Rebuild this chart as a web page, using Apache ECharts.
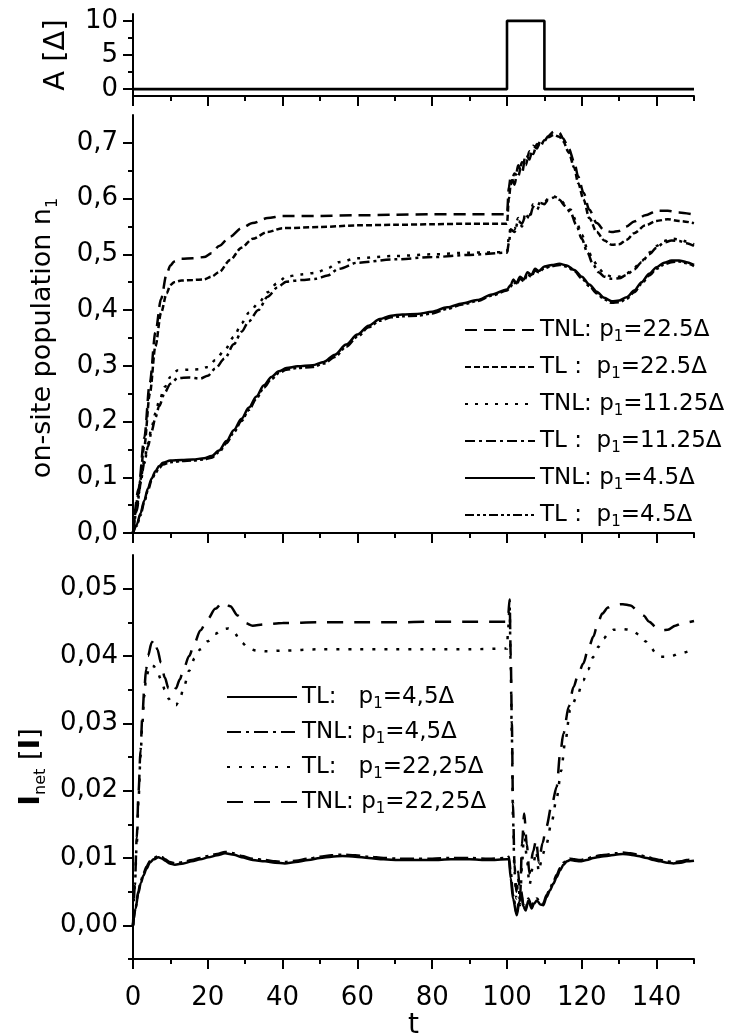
<!DOCTYPE html>
<html><head><meta charset="utf-8">
<script src="https://cdn.jsdelivr.net/npm/echarts@6/dist/echarts.min.js"></script>
<style>html,body{margin:0;padding:0;background:#fff}#c{width:731px;height:1036px}</style>
</head><body><div id="c"></div>
<script>
// ---------- tick labels ----------
const xMajorTicks = [0, 20, 40, 60, 80, 100, 120, 140];
const xMinorTicks = [10, 30, 50, 70, 90, 110, 130, 150];
const aMajorTicks = [0, 5, 10];
const aMinorTicks = [2.5, 7.5];
const nMajorTicks = [0, 0.1, 0.2, 0.3, 0.4, 0.5, 0.6, 0.7];
const nMinorTicks = [0.05, 0.15, 0.25, 0.35, 0.45, 0.55, 0.65];
const iMajorTicks = [0, 0.01, 0.02, 0.03, 0.04, 0.05];
const iMinorTicks = [-0.005, 0.005, 0.015, 0.025, 0.035, 0.045];

// ---------- top panel: pulse amplitude ----------
const tPulse = [0, 100, 100, 110, 110, 150];
const aPulse = [0, 0, 10, 10, 0, 0];

// ---------- middle panel: on-site population ----------
const tMid22 = [0,1.5,3,4.5,6,7.5,9,10,11,13,16,19,21,23,26,29,32,36,40,50,60,70,80,90,100,
  100.5,101,102,103,104,105,106,107,108,109,110,111,112.5,114,115,116.5,118,119,120.5,122,124,126,128,130,132,134,137,140,143,146,150];
const nTNL22 = [0,0.08,0.17,0.27,0.36,0.42,0.465,0.48,0.487,0.492,0.493,0.495,0.502,0.515,0.532,0.547,0.556,0.565,0.569,0.569,0.570,0.571,0.572,0.572,0.572,
  0.62,0.64,0.625,0.66,0.645,0.68,0.67,0.695,0.69,0.705,0.703,0.712,0.72,0.718,0.708,0.69,0.665,0.64,0.61,0.58,0.556,0.543,0.54,0.542,0.55,0.559,0.57,0.578,0.578,0.575,0.571];
const nTL22 = [0,0.07,0.155,0.25,0.335,0.395,0.43,0.445,0.45,0.453,0.454,0.455,0.46,0.468,0.49,0.512,0.528,0.54,0.547,0.549,0.552,0.553,0.554,0.555,0.555,
  0.6,0.625,0.645,0.64,0.665,0.66,0.685,0.68,0.698,0.695,0.705,0.71,0.714,0.711,0.703,0.683,0.655,0.628,0.598,0.565,0.54,0.525,0.517,0.518,0.526,0.538,0.552,0.56,0.563,0.56,0.556];

const tMid11 = [0,1,2,3,4,5,6,7,8.5,10,12,15,18,20,22,24.5,27,29,31,33.5,36,38.5,41,45,49,52,55,60,70,80,90,100,
  100.5,101,102,103,104,105,106,107,108,109,110,111,112.5,114,115.5,117,118.5,120,121.5,123,124.5,126,128,130,132,134,136,138,140,142,144,146,148,150];
const nTNL11 = [0,0.045,0.095,0.13,0.16,0.19,0.215,0.237,0.262,0.28,0.292,0.293,0.294,0.298,0.31,0.328,0.352,0.376,0.395,0.412,0.432,0.448,0.46,0.464,0.467,0.475,0.486,0.493,0.497,0.5,0.503,0.504,
  0.53,0.55,0.545,0.565,0.55,0.575,0.57,0.59,0.585,0.595,0.593,0.6,0.604,0.6,0.59,0.58,0.56,0.535,0.51,0.49,0.475,0.465,0.46,0.46,0.466,0.476,0.488,0.503,0.515,0.524,0.528,0.527,0.523,0.518];
const nTL11 = [0,0.04,0.09,0.125,0.155,0.183,0.207,0.228,0.252,0.268,0.278,0.279,0.277,0.282,0.295,0.313,0.339,0.361,0.38,0.4,0.424,0.44,0.451,0.454,0.456,0.462,0.474,0.485,0.491,0.495,0.499,0.503,
  0.52,0.545,0.54,0.56,0.555,0.57,0.565,0.585,0.58,0.592,0.59,0.598,0.602,0.598,0.587,0.575,0.553,0.528,0.503,0.482,0.468,0.46,0.456,0.457,0.463,0.473,0.486,0.5,0.512,0.521,0.525,0.524,0.52,0.515];

const tMid4 = [0,1,2,3,4,5,6,7,8,10,13,16,19,21,23,25,27,29,31,33,35,37,39,41,44,48,51,54,57,60,63,66,69,72,76,80,84,88,92,96,100,
  101,101.7,102.5,103.5,104.5,105.5,106.5,107.5,108.5,110,112,114,116,118,120,122,124,126,128,130,132,134,136,138,140,142,144,146,148,150];
const nTNL4 = [0,0.015,0.035,0.058,0.08,0.098,0.111,0.12,0.126,0.13,0.131,0.132,0.134,0.138,0.148,0.165,0.185,0.205,0.225,0.245,0.265,0.28,0.29,0.296,0.299,0.301,0.307,0.32,0.338,0.356,0.372,0.384,0.39,0.392,0.393,0.397,0.405,0.412,0.418,0.428,0.437,
  0.445,0.455,0.448,0.46,0.455,0.468,0.463,0.474,0.47,0.478,0.481,0.483,0.48,0.472,0.46,0.446,0.433,0.422,0.416,0.417,0.423,0.435,0.45,0.465,0.477,0.485,0.489,0.489,0.486,0.481];
const nTL4 = [0,0.013,0.032,0.055,0.077,0.095,0.108,0.117,0.123,0.127,0.129,0.13,0.132,0.135,0.145,0.161,0.181,0.201,0.221,0.241,0.261,0.276,0.287,0.293,0.296,0.298,0.304,0.316,0.334,0.352,0.369,0.381,0.387,0.389,0.39,0.394,0.402,0.41,0.416,0.426,0.435,
  0.442,0.451,0.446,0.456,0.452,0.464,0.46,0.471,0.468,0.475,0.479,0.481,0.478,0.47,0.457,0.443,0.43,0.419,0.413,0.414,0.42,0.432,0.447,0.462,0.474,0.482,0.486,0.487,0.484,0.479];

// ---------- bottom panel: net current ----------
const tBot22N = [0,0.5,1,1.5,2,2.5,3,3.5,4,5,5.7,6.5,7.5,8.5,9.5,10.5,11.5,12.5,13.5,15,16.5,18,20,22,24,26,28,30,32,35,40,50,60,70,80,90,100,
  100.3,100.7,101,101.3,101.6,102,102.5,103,103.5,104,104.6,105.3,106,107,107.8,108.5,109.5,110.5,112,113.3,114.2,115.1,116.5,117.8,119,120.4,121.7,123.1,124.3,125.5,127,128.5,131,133,135,136.5,138,140,141.5,143,145,147,150];
const iTNL22 = [0,0.006,0.013,0.02,0.026,0.031,0.035,0.038,0.04,0.042,0.0425,0.041,0.039,0.0368,0.0352,0.0345,0.0352,0.0365,0.038,0.04,0.042,0.0438,0.0455,0.047,0.048,0.0474,0.046,0.0449,0.0445,0.0447,0.0449,0.045,0.045,0.045,0.0451,0.0451,0.0451,
  0.046,0.0484,0.04,0.03,0.018,0.009,0.005,0.008,0.004,0.012,0.0166,0.012,0.0077,0.011,0.0127,0.0093,0.0122,0.0146,0.018,0.0206,0.0255,0.0285,0.0325,0.0354,0.0372,0.0389,0.041,0.0429,0.045,0.0463,0.0472,0.0476,0.0477,0.0475,0.0467,0.046,0.0451,0.0442,0.0438,0.0439,0.0445,0.0449,0.0452];

const tBot22L = [0,0.5,1,1.5,2,2.5,3,3.5,4.5,5.5,6.5,7.5,8.5,9.5,10.5,11.5,12.5,13.5,15,16.5,18,20,22,24,25.5,27,29,31,33,36,40,50,60,70,80,90,100,
  100.3,100.7,101,101.3,101.6,102,102.5,103,103.5,104,104.6,105.3,106,107,107.8,108.5,109.5,110.5,112,113.3,114.5,115.5,116.9,118.7,120.4,121.7,123.1,124.5,125.8,127.2,128.5,131,133,135.6,137,138.3,139.7,141,143.6,146.3,150];
const iTL22 = [0,0.006,0.012,0.019,0.025,0.03,0.034,0.0368,0.0386,0.0385,0.0377,0.0365,0.035,0.0337,0.0328,0.0327,0.0335,0.0352,0.0378,0.0397,0.041,0.0422,0.0433,0.044,0.0441,0.0435,0.042,0.0411,0.0408,0.0407,0.0408,0.041,0.041,0.041,0.041,0.041,0.0411,
  0.044,0.0475,0.038,0.028,0.016,0.008,0.004,0.007,0.003,0.009,0.014,0.01,0.006,0.009,0.011,0.008,0.0105,0.012,0.0155,0.019,0.023,0.027,0.032,0.034,0.0364,0.038,0.0399,0.0414,0.0426,0.0434,0.0439,0.044,0.0439,0.0431,0.0422,0.0414,0.0405,0.0399,0.0399,0.0404,0.041];

const tBot4 = [0,0.7,1.4,2.1,2.8,3.6,4.5,5.5,6.8,7.8,8.6,9.8,11.2,13.5,15.7,18,20.1,22.5,24.6,27,29,32,35.3,38,40.6,43.5,46.9,50,53.1,56,59.4,63,67,71,75,80,85,90,95,100,
  100.5,101,101.6,102.6,103.3,103.8,104.4,105,105.7,106.6,107.2,108,108.9,109.7,110.6,111.5,112.4,113.3,114.2,115.1,116,116.9,118,119.5,121.3,123.1,125,126.7,129,131,133,135,137.4,139.2,141,142.8,144.5,146.5,148,150];
const iTL4 = [0,0.0025,0.0047,0.0063,0.0074,0.0084,0.0093,0.0098,0.0101,0.0099,0.0096,0.0092,0.009,0.0092,0.0095,0.0098,0.0101,0.0104,0.0107,0.0105,0.0101,0.0097,0.0095,0.0093,0.0092,0.0094,0.0097,0.01,0.0102,0.0103,0.0102,0.01,0.0098,0.0097,0.0097,0.0097,0.0098,0.0098,0.0097,0.0098,
  0.0098,0.007,0.004,0.0015,0.0035,0.0047,0.0028,0.0022,0.0037,0.0025,0.0032,0.0037,0.0031,0.003,0.0042,0.0052,0.0062,0.0072,0.0082,0.009,0.0095,0.0097,0.0096,0.0095,0.0097,0.01,0.0102,0.0103,0.0105,0.0106,0.0105,0.0103,0.01,0.0097,0.0095,0.0093,0.0092,0.0093,0.0095,0.0096];
const iTNL4 = [0,0.0027,0.005,0.0066,0.0077,0.0087,0.0095,0.01,0.0103,0.0101,0.0098,0.0094,0.0092,0.0094,0.0097,0.01,0.0103,0.0106,0.0109,0.0107,0.0103,0.0099,0.0097,0.0095,0.0094,0.0096,0.0099,0.0102,0.0104,0.0105,0.0104,0.0102,0.01,0.0099,0.0099,0.0099,0.01,0.01,0.0099,0.01,
  0.0102,0.008,0.0045,0.0018,0.004,0.005,0.003,0.0025,0.004,0.0028,0.0035,0.004,0.0034,0.0033,0.0045,0.0055,0.0065,0.0075,0.0085,0.0093,0.0097,0.0099,0.0098,0.0097,0.0099,0.0102,0.0104,0.0105,0.0107,0.0108,0.0107,0.0105,0.0102,0.0099,0.0097,0.0095,0.0094,0.0095,0.0097,0.0098];

// ---------- legend names ----------
const midNames = ['TNL: p1=22.5Δ', 'TL :  p1=22.5Δ', 'TNL: p1=11.25Δ', 'TL :  p1=11.25Δ', 'TNL: p1=4.5Δ', 'TL :  p1=4.5Δ'];
const botNames = ['TL:   p1=4,5Δ', 'TNL: p1=4,5Δ', 'TL:   p1=22,25Δ', 'TNL: p1=22,25Δ'];

// ================= build chart =================
const FONT = 'DejaVu Sans';
const BLACK = '#000';
const zip = (ts, vs) => ts.map((t, i) => [t, vs[i]]);
const subRich = {
  s: { fontSize: 15, lineHeight: 15, verticalAlign: 'bottom', fontFamily: FONT, color: BLACK }
};
function nameStyle(size, pad) {
  return { fontSize: size, lineHeight: 36, fontFamily: FONT, color: BLACK, padding: pad, rich: {
    s: { fontSize: 16, lineHeight: 16, verticalAlign: 'bottom', fontFamily: FONT, color: BLACK },
    b: { fontWeight: 'bold', fontSize: 29, lineHeight: 36, fontFamily: FONT, color: BLACK }
  } };
}
const lineAx = { show: true, onZero: false, lineStyle: { color: BLACK, width: 2 } };

function xAxes(gi, labels) {
  return [{
    type: 'value', gridIndex: gi, min: 0, max: 150, position: 'bottom',
    axisLine: lineAx,
    axisTick: { show: true, customValues: xMajorTicks, length: 10, lineStyle: { color: BLACK, width: 2 } },
    axisLabel: { show: labels, customValues: xMajorTicks, margin: 26, color: BLACK, fontSize: 26, fontFamily: FONT },
    splitLine: { show: false },
    name: labels ? 't' : '', nameLocation: 'middle', nameGap: 52,
    nameTextStyle: { fontSize: 28, fontFamily: FONT, color: BLACK }
  }, {
    type: 'value', gridIndex: gi, min: 0, max: 150, position: 'bottom',
    axisLine: { show: false, onZero: false },
    axisTick: { show: true, customValues: xMinorTicks, length: 5, lineStyle: { color: BLACK, width: 2 } },
    axisLabel: { show: false }, splitLine: { show: false }
  }];
}
function yAxes(gi, min, max, major, minor, fmt, name, gap, nSize, nPad) {
  return [{
    type: 'value', gridIndex: gi, min, max, position: 'left',
    axisLine: lineAx,
    axisTick: { show: true, customValues: major, length: 10, lineStyle: { color: BLACK, width: 2 } },
    axisLabel: { show: true, customValues: major, margin: 15, color: BLACK, fontSize: 26, fontFamily: FONT, formatter: fmt },
    splitLine: { show: false },
    name, nameLocation: 'middle', nameRotate: 90, nameGap: gap, nameTextStyle: nameStyle(nSize, nPad)
  }, {
    type: 'value', gridIndex: gi, min, max, position: 'left',
    axisLine: { show: false, onZero: false },
    axisTick: { show: true, customValues: minor, length: 5, lineStyle: { color: BLACK, width: 2 } },
    axisLabel: { show: false }, splitLine: { show: false }
  }];
}
function ser(name, gi, ts, vs, type, width) {
  return {
    name, type: 'line', xAxisIndex: gi * 2, yAxisIndex: gi * 2, data: zip(ts, vs),
    symbol: 'none', smooth: 0.3, smoothMonotone: 'x',
    lineStyle: { color: BLACK, width: width || 2.5, type },
    itemStyle: { color: BLACK }
  };
}
const legendCommon = {
  orient: 'vertical', itemWidth: 70, itemHeight: 14, padding: 0,
  selectedMode: false,
  itemStyle: { opacity: 0 },
  formatter: n => n.replace('p1', 'p{s|1}'),
  textStyle: { fontSize: 23, lineHeight: 30, fontFamily: FONT, color: BLACK, rich: subRich }
};

const option = {
  animation: false,
  backgroundColor: '#fff',
  grid: [
    { left: 133, right: 37, top: 14, height: 82, outerBoundsMode: 'none' },
    { left: 133, right: 37, top: 115, height: 418, outerBoundsMode: 'none' },
    { left: 133, right: 37, top: 555, height: 404, outerBoundsMode: 'none' }
  ],
  xAxis: [].concat(xAxes(0, false), xAxes(1, false), xAxes(2, true)),
  yAxis: [].concat(
    yAxes(0, -1, 11, aMajorTicks, aMinorTicks, v => String(v), 'A [Δ]', 58, 29, [0, 0, 0, 0]),
    yAxes(1, 0, 0.75, nMajorTicks, nMinorTicks, v => v.toFixed(1).replace('.', ','), 'on-site population n{s|1}', 72, 27, [0, 28, 0, 0]),
    yAxes(2, -0.005, 0.055, iMajorTicks, iMinorTicks, v => v.toFixed(2).replace('.', ','), '{b|I}{s|net} [{b|I}]', 80, 27, [0, 20, 0, 0])
  ),
  legend: [
    Object.assign({ data: midNames, left: 464, top: 315, itemGap: 7 }, legendCommon),
    Object.assign({ data: botNames, left: 226, top: 682, itemGap: 5 }, legendCommon)
  ],
  series: [
    ser('A', 0, tPulse, aPulse, 'solid', 2.6),
    ser(midNames[0], 1, tMid22, nTNL22, [12, 7]),
    ser(midNames[1], 1, tMid22, nTL22, [6, 3]),
    ser(midNames[2], 1, tMid11, nTNL11, [3, 7]),
    ser(midNames[3], 1, tMid11, nTL11, [10, 4, 3, 4]),
    ser(midNames[4], 1, tMid4, nTNL4, 'solid'),
    ser(midNames[5], 1, tMid4, nTL4, [9, 3, 3, 3, 3, 3]),
    ser(botNames[0], 2, tBot4, iTL4, 'solid'),
    ser(botNames[1], 2, tBot4, iTNL4, [14, 5, 3, 5]),
    ser(botNames[2], 2, tBot22L, iTL22, [3, 9]),
    ser(botNames[3], 2, tBot22N, iTNL22, [16, 11])
  ]
};
option.series[0].smooth = false;
const chart = echarts.init(document.getElementById('c'), null, { renderer: 'canvas' });
chart.setOption(option);
</script></body></html>
